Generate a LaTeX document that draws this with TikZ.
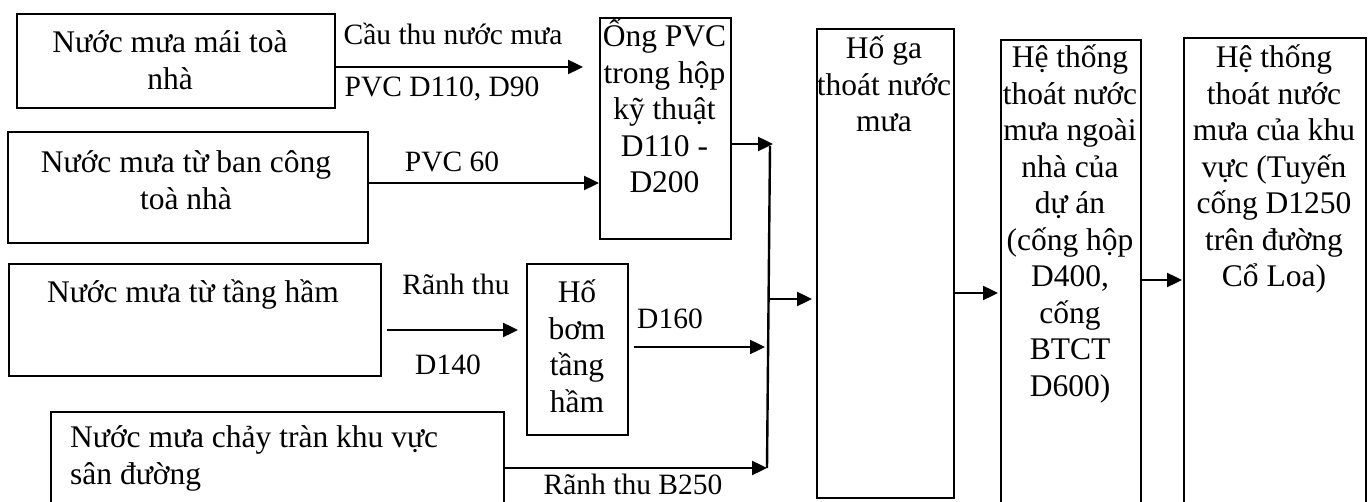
\documentclass[tikz,border=0pt]{standalone}
\usepackage{fontspec}
\setmainfont{Liberation Serif}
\usetikzlibrary{arrows.meta}
% multi-line cell whose reference point is the first baseline
\newcommand{\linesof}[2][c]{\begin{tabular}[t]{@{}#1@{}}#2\end{tabular}}
\begin{document}
\begin{tikzpicture}[x=1pt,y=-1pt,
  box/.style={draw, line width=1.8pt, inner sep=0, anchor=north west},
  txt/.style={anchor=base, inner sep=0, font=\fontsize{31.5}{36.5}\selectfont},
  lbl/.style={anchor=base, inner sep=0, font=\fontsize{29.5}{36}\selectfont},
  arr/.style={line width=2.4pt, -{Triangle[length=15pt,width=14pt]}},
  pipe/.style={line width=2.4pt},
]
\useasboundingbox (0,0) rectangle (1369,502);

% ---- boxes ----
\node[box, minimum width=318pt, minimum height=94pt]  (b1) at (16,13)   {};
\node[box, minimum width=360pt, minimum height=111pt] (b2) at (7,131)   {};
\node[box, minimum width=372pt, minimum height=112pt] (b3) at (8,263)   {};
\node[box, minimum width=453pt, minimum height=110pt] (b4) at (50,411)  {};
\node[box, minimum width=131pt, minimum height=221pt] (b5) at (599,17)  {};
\node[box, minimum width=101pt, minimum height=171pt] (b6) at (526,263) {};
\node[box, minimum width=137pt, minimum height=469pt] (b7) at (816,28)  {};
\node[box, minimum width=140pt, minimum height=480pt] (b8) at (1000,39) {};
\node[box, minimum width=182pt, minimum height=480pt] (b9) at (1183,37) {};

% ---- box texts ----
\node[txt] (t1) at (170,53) {\linesof{Nước mưa mái toà\\nhà}};
\node[txt] (t2) at (186,173) {\linesof{Nước mưa từ ban công\\toà nhà}};
\node[txt] (t3) at (193,303) {Nước mưa từ tầng hầm};
\node[txt, anchor=base west] (t4) at (70,448) {\linesof[l]{Nước mưa chảy tràn khu vực\\sân đường}};
\node[txt] (t5) at (664.5,47) {\linesof{Ống PVC\\trong hộp\\kỹ thuật\\D110 -\\D200}};
\node[txt] (t6) at (577,303) {\linesof{Hố\\bơm\\tầng\\hầm}};
\node[txt] (t7) at (884,59) {\linesof{Hố ga\\thoát nước\\mưa}};
\node[txt] (t8) at (1070,68) {\linesof{Hệ thống\\thoát nước\\mưa ngoài\\nhà của\\dự án\\(cống hộp\\D400,\\cống\\BTCT\\D600)}};
\node[txt] (t9) at (1274,68) {\linesof{Hệ thống\\thoát nước\\mưa của khu\\vực (Tuyến\\cống D1250\\trên đường\\Cổ Loa)}};

% ---- junction collecting the inner flows ----
\coordinate (jtop) at (770,146);
\coordinate (jbot) at (767,468);
\coordinate (j3)   at (773,144);
\coordinate (jout) at (768,299);

% ---- connectors ----
\draw[arr, shorten >=16pt] (b1.east |- 0,67) -- (b5.west |- 0,67);
\draw[arr] (b2.east |- 0,183) -- (b5.west |- 0,183);
\draw[arr, shorten <=5pt, shorten >=8pt] (b3.east |- 0,330) -- (b6.west |- 0,330);
\draw[arr] (b5.east |- 0,144) -- (j3);
\draw[arr, shorten <=5pt, shorten >=2pt] (b6.east |- 0,347) -- (jbot |- 0,347);
\draw[arr] (b4.east |- 0,468) -- (jbot);
\draw[pipe] (jtop) -- (jbot);
\draw[arr, shorten >=4pt] (jout) -- (b7.west |- 0,299);
\draw[arr, shorten >=2pt] (b7.east |- 0,293) -- (b8.west |- 0,293);
\draw[arr, shorten >=1pt] (b8.east |- 0,280) -- (b9.west |- 0,280);

% ---- connector labels ----
\node[lbl] (l1) at (453,45)  {Cầu thu nước mưa};
\node[lbl] (l2) at (442,97)  {PVC D110, D90};
\node[lbl] (l3) at (452,172) {PVC 60};
\node[lbl] (l4) at (456,295) {Rãnh thu};
\node[lbl] (l5) at (448,375) {D140};
\node[lbl] (l6) at (670,329) {D160};
\node[lbl] (l7) at (633,495) {Rãnh thu B250};
\end{tikzpicture}
\end{document}
